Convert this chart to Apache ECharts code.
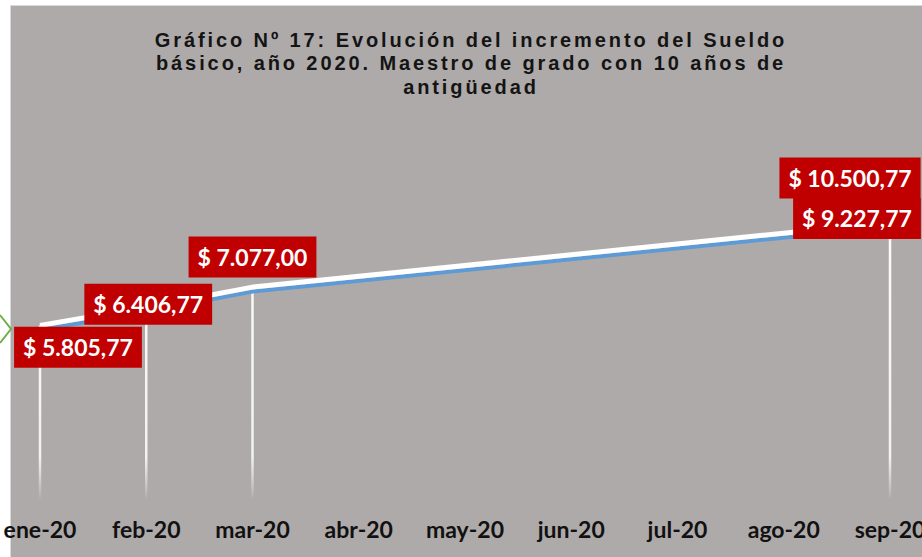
<!DOCTYPE html>
<html>
<head>
<meta charset="utf-8">
<script src="https://cdn.jsdelivr.net/npm/echarts@6/dist/echarts.min.js"></script>
<style>
  html, body { margin: 0; padding: 0; background: #fff; }
  #chart { width: 922px; height: 557px; }
  /* title in the original is letter-spaced */
  #chart text[style*="Liberation"] { letter-spacing: 2.9px; }
</style>
</head>
<body>
<div id="chart"></div>
<script>
// data
const months = ['ene-20', 'feb-20', 'mar-20', 'abr-20', 'may-20', 'jun-20', 'jul-20', 'ago-20', 'sep-20']
const sueldo = [5805.77, 6406.77, 7077.00, null, null, null, null, null, 9227.77]
const sueldoSep = [null, null, null, null, null, null, null, null, 10500.77]

// where each red label sits relative to its point
const labelOffsets = { 0: [38, 22], 1: [2, -3], 2: [0, -30], 8: [-33, -4] }
const sepLabelOffset = [-40, -6]

function pesos(v) {
  const parts = v.toFixed(2).split('.')
  const ent = parts[0].replace(/\B(?=(\d{3})+(?!\d))/g, '.')
  return '$ ' + ent + ',' + parts[1]
}

const labelStyle = {
  show: true,
  position: 'inside',
  backgroundColor: '#c00000',
  color: '#fff',
  opacity: 1,
  fontFamily: 'Lato',
  fontWeight: 'bold',
  fontSize: 23,
  padding: [10, 9, 8, 9],
  formatter: p => pesos(p.value)
}

const chart = echarts.init(document.getElementById('chart'), null, { renderer: 'svg' })

chart.setOption({
  animation: false,
  backgroundColor: '#fff',
  title: {
    text: 'Gráfico Nº 17: Evolución del incremento del Sueldo\nbásico, año 2020. Maestro de grado con 10 años de\nantigüedad',
    left: 466,
    top: 23,
    textAlign: 'center',
    textStyle: {
      fontFamily: 'Liberation Sans',
      fontWeight: 'bold',
      fontSize: 20,
      lineHeight: 23.5,
      color: '#141414'
    }
  },
  graphic: [
    {
      type: 'rect',
      z: -10,
      shape: { x: 10.5, y: 5.5, width: 920, height: 560 },
      style: { fill: '#aeaaa9', stroke: '#d9d9d9', lineWidth: 1 }
    },
    {
      type: 'polyline',
      z: 50,
      shape: { points: [[0, 315], [11, 329], [0, 343]] },
      style: { fill: null, stroke: '#70ad47', lineWidth: 2 }
    }
  ],
  grid: { left: 40, right: 32, top: 139, bottom: 57, outerBoundsMode: 'none' },
  xAxis: {
    type: 'category',
    data: months,
    boundaryGap: false,
    axisLine: { show: false },
    axisTick: { show: false },
    splitLine: { show: false },
    axisLabel: {
      interval: 0,
      margin: 17,
      color: '#111',
      fontFamily: 'Lato',
      fontWeight: 'bold',
      fontSize: 23
    }
  },
  yAxis: {
    type: 'value',
    min: 0,
    max: 12000,
    show: false
  },
  series: [
    {
      // drop lines
      name: 'guia',
      type: 'bar',
      data: sueldo,
      barWidth: 2.5,
      silent: true,
      itemStyle: {
        color: {
          type: 'linear', x: 0, y: 139, x2: 0, y2: 500, global: true,
          colorStops: [
            { offset: 0, color: '#ffffff' },
            { offset: 0.88, color: '#f2f2f2' },
            { offset: 1, color: 'rgba(255,255,255,0)' }
          ]
        }
      }
    },
    {
      name: 'Sueldo básico',
      type: 'line',
      data: sueldo.map((v, i) => ({
        value: v,
        label: Object.assign({}, labelStyle, { offset: labelOffsets[i] || [0, 0] })
      })),
      connectNulls: true,
      symbol: 'circle',
      symbolSize: 1,
      showSymbol: true,
      itemStyle: { color: 'rgba(0,0,0,0)' },
      lineStyle: {
        color: '#ffffff',
        width: 5,
        shadowColor: '#5b9bd5',
        shadowBlur: 0,
        shadowOffsetY: 4
      },
      z: 5
    },
    {
      name: 'Sueldo sep',
      type: 'scatter',
      data: sueldoSep,
      symbolSize: 1,
      itemStyle: { color: 'rgba(0,0,0,0)', opacity: 1 },
      label: Object.assign({}, labelStyle, { offset: sepLabelOffset }),
      z: 6
    }
  ]
})

document.querySelectorAll('#chart svg text').forEach(t => {
  if ((t.getAttribute('style') || '').indexOf('Liberation') >= 0) {
    t.style.letterSpacing = '2.9px'
  }
})
</script>
</body>
</html>
